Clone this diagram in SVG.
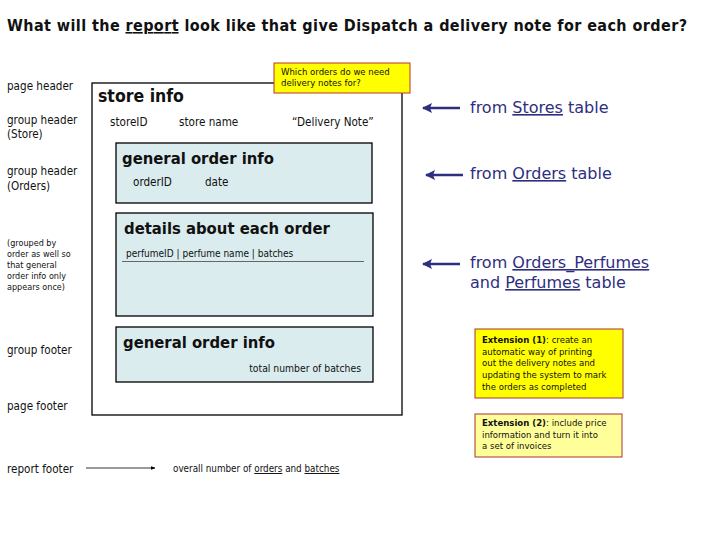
<svg xmlns="http://www.w3.org/2000/svg" width="728" height="546" viewBox="0 0 728 546">
<defs>
<style>
text{font-family:"DejaVu Sans Condensed","DejaVu Sans",sans-serif;fill:#111}
.b{font-weight:bold}
.lab{font-size:11.6px}
.small{font-size:9px}
.h{font-size:16.5px;font-weight:bold}
.blue{fill:#2e2e80;font-size:16px;font-family:"DejaVu Sans",sans-serif}
.note{font-size:9.5px}
.box{fill:#daecee;stroke:#000;stroke-width:1.3}
.u{text-decoration:underline}
</style>
<marker id="ab" viewBox="0 0 10 10" refX="9" refY="5" markerWidth="4" markerHeight="4" orient="auto"><path d="M0,0 L10,5 L0,10 L2,5 z" fill="#2e2e80"/></marker>
<marker id="ak" viewBox="0 0 10 10" refX="9" refY="5" markerWidth="6" markerHeight="6" orient="auto"><path d="M0,1 L10,5 L0,9 z" fill="#000"/></marker>
</defs>
<rect width="728" height="546" fill="#fff"/>
<text x="7" y="31" class="h" style="font-size:16px" textLength="680">What will the <tspan class="u">report</tspan> look like that give Dispatch a delivery note for each order?</text>

<g id="labels">
<text x="7" y="90" class="lab">page header</text>
<text x="7" y="124" class="lab">group header</text>
<text x="7" y="138" class="lab">(Store)</text>
<text x="7" y="175" class="lab">group header</text>
<text x="7" y="190" class="lab">(Orders)</text>
<text x="7" y="246" class="small">(grouped by</text>
<text x="7" y="257" class="small">order as well so</text>
<text x="7" y="268" class="small">that general</text>
<text x="7" y="279" class="small">order info only</text>
<text x="7" y="290" class="small">appears once)</text>
<text x="7" y="354" class="lab">group footer</text>
<text x="7" y="410" class="lab">page footer</text>
<text x="7" y="473" class="lab">report footer</text>
</g>

<g id="report">
<rect x="92" y="83" width="310" height="332" fill="#fff" stroke="#000" stroke-width="1.3"/>
<text x="98" y="102" style="font-size:17.5px;font-weight:bold">store info</text>
<text x="110" y="126" class="lab">storeID</text>
<text x="179" y="126" class="lab">store name</text>
<text x="292" y="126" class="lab">“Delivery Note”</text>
</g>

<g id="order-header">
<rect x="116" y="143" width="256" height="60" class="box"/>
<text x="122" y="164" class="h">general order info</text>
<text x="133" y="186" class="lab">orderID</text>
<text x="205" y="186" class="lab">date</text>
</g>

<g id="details">
<rect x="116" y="213" width="257" height="103" class="box"/>
<text x="124" y="234" class="h">details about each order</text>
<text x="126" y="257" style="font-size:10px">perfumeID | perfume name | batches</text>
<line x1="122" y1="261.5" x2="364" y2="261.5" stroke="#666" stroke-width="1"/>
</g>

<g id="order-footer">
<rect x="116" y="327" width="257" height="55" class="box"/>
<text x="123" y="348" class="h">general order info</text>
<text x="361" y="372" style="font-size:10.3px" text-anchor="end">total number of batches</text>
</g>

<g id="question">
<rect x="274" y="63" width="136" height="30" fill="#ffff00" stroke="#b33" stroke-width="1"/>
<text x="281" y="75" class="note">Which orders do we need</text>
<text x="281" y="86" class="note">delivery notes for?</text>
</g>

<g id="sources">
<text x="470" y="113" class="blue">from <tspan class="u">Stores</tspan> table</text>
<text x="470" y="179" class="blue">from <tspan class="u">Orders</tspan> table</text>
<text x="470" y="268" class="blue">from <tspan class="u">Orders_Perfumes</tspan></text>
<text x="470" y="288" class="blue">and <tspan class="u">Perfumes</tspan> table</text>
</g>

<g id="ext1">
<rect x="475" y="329" width="148" height="69" fill="#ffff00" stroke="#a33" stroke-width="1"/>
<text x="482" y="343" class="note"><tspan class="b">Extension (1)</tspan>: create an</text>
<text x="482" y="355" class="note">automatic way of printing</text>
<text x="482" y="366" class="note">out the delivery notes and</text>
<text x="482" y="378" class="note">updating the system to mark</text>
<text x="482" y="390" class="note">the orders as completed</text>
</g>

<g id="ext2">
<rect x="475" y="414" width="147" height="43" fill="#ffff99" stroke="#a33" stroke-width="1"/>
<text x="482" y="426" class="note"><tspan class="b">Extension (2)</tspan>: include price</text>
<text x="482" y="438" class="note">information and turn it into</text>
<text x="482" y="449" class="note">a set of invoices</text>
</g>

<g id="report-footer">
<text x="173" y="472" style="font-size:9.8px">overall number of <tspan class="u">orders</tspan> and <tspan class="u">batches</tspan></text>
</g>

<g id="connectors">
<line x1="460" y1="108" x2="423" y2="108" stroke="#2e2e80" stroke-width="2.5" marker-end="url(#ab)"/>
<line x1="463" y1="175" x2="426" y2="175" stroke="#2e2e80" stroke-width="2.5" marker-end="url(#ab)"/>
<line x1="460" y1="264" x2="423" y2="264" stroke="#2e2e80" stroke-width="2.5" marker-end="url(#ab)"/>
<line x1="86" y1="468" x2="155" y2="468" stroke="#000" stroke-width="0.8" marker-end="url(#ak)"/>
</g>
</svg>
